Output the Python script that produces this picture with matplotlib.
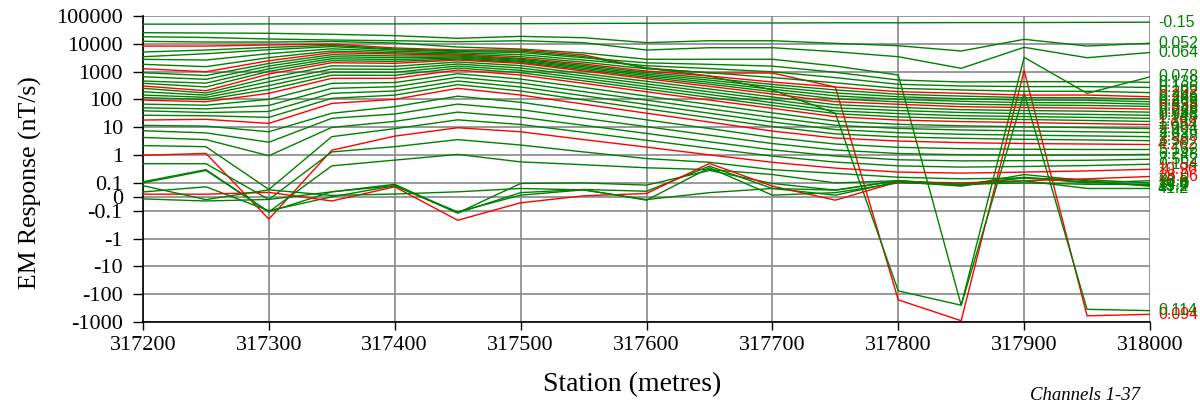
import matplotlib
matplotlib.use("Agg")
import matplotlib.pyplot as plt
from matplotlib.ticker import FixedLocator, NullLocator

stations = [317200, 317250, 317300, 317350, 317400, 317450, 317500, 317550, 317600,
            317650, 317700, 317750, 317800, 317850, 317900, 317950, 318000]

times = ["-0.15", "0.052", "0.064", "0.078", "0.094", "0.114", "0.138", "0.166", "0.202",
         "0.246", "0.298", "0.362", "0.438", "0.532", "0.646", "0.782", "0.948", "1.148",
         "1.39", "1.654", "2.004", "2.426", "2.938", "3.56", "4.262", "5.162", "6.248",
         "7.562", "9.154", "10.96", "13.2", "16.0", "19.4", "23.5", "28.06", "34.0", "41.2"]

red_channels = [5, 10, 15, 20, 25, 30, 35]

ch01 = [51000, 51000, 52000, 52000, 52000, 53000, 53000, 54000, 55000, 56000, 56000, 57000, 57000, 58000, 58000, 59000, 60000]
ch02 = [25100, 24500, 23900, 22000, 19600, 15800, 18500, 16600, 11000, 12900, 12900, 10400, 8550, 5510, 14500, 8340, 10500]
ch03 = [18000, 16900, 14900, 13700, 12900, 11900, 12900, 11000, 5980, 7240, 7240, 5200, 3440, 1315, 7490, 3165, 4870]
ch04 = [12300, 11600, 11600, 12100, 10700, 7670, 6500, 4680, 2780, 2780, 2780, 1590, 755, -250, 3270, 166, 650]
ch05 = [8300, 8300, 9100, 9800, 7100, 6000, 6000, 4000, 1350, 890, 890, 280, -160, -900, 1100, -600, -530]
ch06 = [5070, 5980, 7430, 8830, 6500, 5600, 5420, 3520, 1350, 695, 220, 32, -76, -250, 165, -350, -390]
ch07 = [3440, 4400, 6140, 7930, 6090, 5290, 4870, 3160, 2070, 1830, 1580, 945, 500, 425, 435, 435, 415]
ch08 = [2770, 2610, 4440, 6610, 5380, 4750, 4090, 2610, 1630, 1290, 985, 610, 350, 305, 290, 290, 270]
ch09 = [1830, 1510, 3190, 5510, 4750, 4300, 3460, 2180, 1270, 912, 614, 395, 250, 220, 197, 197, 176]
ch10 = [1270, 990, 2470, 4790, 4300, 3960, 3010, 1880, 1050, 695, 423, 280, 190, 166, 144, 144, 125]
ch11 = [915, 725, 1975, 4055, 3670, 3650, 2780, 1670, 930, 585, 347, 220, 154, 132, 117, 116, 102]
ch12 = [656, 529, 1590, 3440, 3165, 3355, 2550, 1490, 813, 495, 284, 171, 125, 106, 95, 94, 83]
ch13 = [460, 386, 1270, 2915, 2705, 3090, 2350, 1330, 719, 416, 233, 135, 101, 86, 77, 76, 68]
ch14 = [380, 282, 1025, 2470, 2330, 2845, 2160, 1180, 630, 353, 191, 105, 82, 68, 63, 61, 56]
ch15 = [304, 206, 820, 2095, 1990, 2610, 1990, 1050, 556, 296, 157, 83, 67, 55, 51, 49, 45]
ch16 = [251, 171, 594, 1620, 1550, 2220, 1645, 855, 449, 237, 123, 65, 52, 43, 40, 38, 35]
ch17 = [189, 143, 434, 1240, 1210, 1880, 1350, 701, 361, 188, 98, 50, 40, 34, 31, 29, 27]
ch18 = [144, 119, 314, 961, 945, 1590, 1115, 570, 291, 150, 77, 39, 31, 26, 24.3, 22.7, 21]
ch19 = [117, 99, 229, 743, 736, 1350, 915, 468, 235, 119, 61, 31, 23.5, 20.6, 19, 17.6, 16.2]
ch20 = [95, 83, 166, 575, 575, 1140, 755, 380, 189, 95, 48, 24, 18.2, 16, 14.8, 13.6, 12.5]
ch21 = [68, 62, 101, 380, 406, 841, 540, 270, 132, 66, 33, 16.7, 12.8, 11.3, 10.4, 9.7, 9.0]
ch22 = [50, 46, 61, 251, 287, 625, 389, 191, 94, 46, 22.5, 11.8, 9.1, 8.0, 7.4, 6.9, 6.5]
ch23 = [39, 34, 37, 166, 202, 460, 280, 136, 66, 32, 15.5, 8.3, 6.4, 5.6, 5.2, 4.9, 4.6]
ch24 = [27, 26, 22.7, 110, 143, 341, 201, 96, 46, 22, 10.6, 5.8, 4.5, 4.0, 3.7, 3.5, 3.3]
ch25 = [18.2, 19.3, 13.8, 72, 101, 251, 144, 68, 32, 15.4, 7.3, 4.1, 3.2, 2.8, 2.6, 2.5, 2.4]
ch26 = [11.7, 11, 6.9, 32, 55, 131, 79, 38, 18.5, 9.0, 4.3, 2.5, 1.9, 1.7, 1.62, 1.59, 1.59]
ch27 = [7.5, 6.3, 2.9, 21, 30, 68, 43, 21, 10.5, 5.2, 2.6, 1.52, 1.14, 1.03, 1.0, 1.0, 1.06]
ch28 = [4.3, 3.6, 0.95, 9.9, 16.3, 35, 23, 11.8, 6.0, 3.0, 1.54, 0.92, 0.68, 0.62, 0.63, 0.65, 0.71]
ch29 = [2.2, 2.0, 0.053, 4.6, 8.9, 18.5, 12.6, 6.6, 3.4, 1.76, 0.92, 0.56, 0.41, 0.37, 0.39, 0.42, 0.47]
ch30 = [0.98, 1.15, -0.2, 1.5, 4.8, 9.6, 6.9, 3.6, 1.94, 1.02, 0.55, 0.34, 0.245, 0.225, 0.245, 0.27, 0.31]
ch31 = [0.49, 0.49, -0.019, 1.3, 2.0, 3.6, 2.3, 1.3, 0.75, 0.55, 0.3, 0.22, 0.16, 0.14, 0.15, 0.11, 0.077]
ch32 = [0.11, 0.3, -0.11, 0.41, 0.66, 1.06, 0.57, 0.45, 0.35, 0.3, 0.2, 0.1, 0.12, 0.09, 0.15, 0.13, 0.1]
ch33 = [0.1, 0.28, -0.11, 0.036, 0.09, -0.12, 0.096, 0.1, 0.084, 0.28, 0.096, 0.048, 0.12, 0.08, 0.2, 0.12, 0.08]
ch34 = [0.035, 0.072, -0.1, 0.0, 0.08, -0.12, 0.03, 0.053, 0.04, 0.4, 0.06, 0.012, 0.11, 0.077, 0.16, 0.1, 0.12]
ch35 = [0.019, 0.019, 0.032, -0.03, 0.072, -0.22, -0.043, 0.007, 0.024, 0.5, 0.077, -0.024, 0.11, 0.1, 0.12, 0.14, 0.17]
ch36 = [-0.015, -0.03, -0.019, 0.036, 0.08, -0.11, 0.012, 0.05, -0.024, 0.35, 0.012, 0.03, 0.1, 0.09, 0.1, 0.09, 0.09]
ch37 = [0.08, -0.02, 0.05, 0.01, 0.02, 0.036, 0.06, 0.05, -0.02, 0.03, 0.06, 0.048, 0.12, 0.085, 0.12, 0.06, 0.06]

channels = [ch01, ch02, ch03, ch04, ch05, ch06, ch07, ch08, ch09, ch10,
            ch11, ch12, ch13, ch14, ch15, ch16, ch17, ch18, ch19, ch20,
            ch21, ch22, ch23, ch24, ch25, ch26, ch27, ch28, ch29, ch30,
            ch31, ch32, ch33, ch34, ch35, ch36, ch37]

ytick_vals = [100000, 10000, 1000, 100, 10, 1, 0.1, 0, -0.1, -1, -10, -100, -1000]
ytick_labels = ["100000", "10000", "1000", "100", "10", "1", "0.1", "0", "-0.1", "-1", "-10", "-100", "-1000"]
xtick_vals = [317200, 317300, 317400, 317500, 317600, 317700, 317800, 317900, 318000]

SERIF = "Liberation Serif"
SANS = "Liberation Sans"
GREEN = "#008000"
RED = "#ff0000"

fig = plt.figure(figsize=(12, 4.08), dpi=100)
ax = fig.add_axes([143 / 1200, 1 - 322 / 408, (1150 - 143) / 1200, (322 - 16) / 408])

for i, vals in enumerate(channels):
    col = RED if (i + 1) in red_channels else GREEN
    ax.plot(stations, vals, color=col, lw=1.0, zorder=3)
    ax.annotate(times[i], xy=(stations[-1], vals[-1]), xytext=(8, 0),
                textcoords="offset pixels", ha="left", va="center",
                color=col, fontsize=11.5, family=SANS, annotation_clip=False)

ax.set_yscale("symlog", linthresh=0.1, linscale=0.45)
ax.set_ylim(-1000, 100000)
ax.set_xlim(317200, 318000)
ax.yaxis.set_major_locator(FixedLocator(ytick_vals))
ax.set_yticklabels(ytick_labels)
ax.yaxis.set_minor_locator(NullLocator())
ax.set_xticks(xtick_vals)
ax.set_xticklabels([str(v) for v in xtick_vals])
ax.xaxis.set_minor_locator(NullLocator())

ax.set_axisbelow(True)
ax.grid(True, color="#888888", lw=1.2)
for s in ["top", "right"]:
    ax.spines[s].set_visible(False)
for s in ["left", "bottom"]:
    ax.spines[s].set_color("black")
    ax.spines[s].set_linewidth(1.2)

ax.tick_params(axis="both", direction="out", width=1, colors="black", labelsize=16)
ax.tick_params(axis="y", length=7.5, pad=7)
ax.tick_params(axis="x", length=6, pad=4)
for lab in ax.get_xticklabels() + ax.get_yticklabels():
    lab.set_family(SERIF)

fig.text(632 / 1200, 1 - 385 / 408, "Station (metres)", ha="center", va="center",
         fontsize=20, family=SERIF)
fig.text(30 / 1200, 1 - 183 / 408, "EM Response (nT/s)", ha="center", va="center",
         rotation=90, fontsize=18.5, family=SERIF)
fig.text(1140 / 1200, 1 - 396 / 408, "Channels 1-37", ha="right", va="center",
         fontsize=13.5, style="italic", family=SERIF)

fig.savefig("out.png", dpi=100)
